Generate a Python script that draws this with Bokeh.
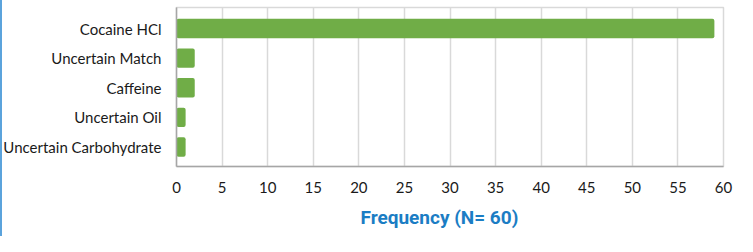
from bokeh.plotting import figure
from bokeh.models import FixedTicker, Title, Range1d
from bokeh.embed import file_html
from bokeh.resources import INLINE

categories = ["Cocaine HCl", "Uncertain Match", "Caffeine", "Uncertain Oil", "Uncertain Carbohydrate"]
frequency = [59, 2, 2, 1, 1]
x_ticks = [0, 5, 10, 15, 20, 25, 30, 35, 40, 45, 50, 55, 60]
title_text = "Frequency (N= 60)"

n = len(categories)
ypos = [n - 1 - i for i in range(n)]

p = figure(width=737, height=236, output_backend="svg", toolbar_location=None,
           x_range=Range1d(0, 60), y_range=Range1d(-0.66, n - 1 + 0.71),
           min_border_left=176, min_border_right=14, min_border_top=7, min_border_bottom=70)
p.styles = {"background": "linear-gradient(to right, #5ba3dc 0px, #5ba3dc 2px, white 2px)"}
p.border_fill_color = None
p.background_fill_color = "white"

p.hbar(y=ypos, right=frequency, left=0, height=0.655, color="#70ad47", line_color=None,
       border_radius=2)

p.xaxis.ticker = FixedTicker(ticks=x_ticks)
p.yaxis.ticker = FixedTicker(ticks=ypos)
p.yaxis.major_label_overrides = {y: c for y, c in zip(ypos, categories)}

for ax in (p.xaxis, p.yaxis):
    ax.major_tick_line_color = None
    ax.minor_tick_line_color = None
    ax.axis_line_color = "#a6a6a6"
    ax.axis_line_width = 1.5
    ax.major_label_text_font = "Lato"
    ax.major_label_text_font_size = "15px"
    ax.major_label_text_color = "#1a1a1a"
    ax.major_label_standoff = 9

p.xgrid.grid_line_color = "#d9d9d9"
p.xgrid.grid_line_width = 1.5
p.ygrid.grid_line_color = None
p.outline_line_color = "#d9d9d9"
p.outline_line_width = 1.5

t = Title(text=title_text, align="left", offset=184, standoff=16, text_color="#1b7dc4",
          text_font_size="19px", text_font_style="bold", text_font="Roboto")
p.add_layout(t, "below")

open("out.html", "w").write(file_html(p, INLINE))
